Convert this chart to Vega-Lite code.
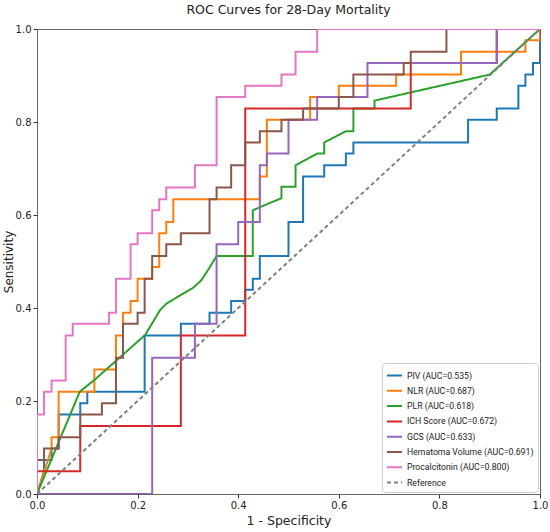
{
 "$schema": "https://vega.github.io/schema/vega-lite/v6.json",
 "width": 503,
 "height": 465,
 "autosize": {"type": "none"},
 "padding": {"left": 37, "top": 29, "right": 10, "bottom": 38},
 "title": {"text": "ROC Curves for 28-Day Mortality", "fontSize": 12.5, "font": "DejaVu Sans", "fontWeight": "normal", "color": "#222", "offset": 8},
 "data": {"values": [
  {"m":"PIV (AUC=0.535)","i":0,"x":0,"y":0},{"m":"PIV (AUC=0.535)","i":1,"x":0.014,"y":0.049},{"m":"PIV (AUC=0.535)","i":2,"x":0.014,"y":0.073},{"m":"PIV (AUC=0.535)","i":3,"x":0.029,"y":0.073},{"m":"PIV (AUC=0.535)","i":4,"x":0.029,"y":0.098},{"m":"PIV (AUC=0.535)","i":5,"x":0.043,"y":0.098},{"m":"PIV (AUC=0.535)","i":6,"x":0.043,"y":0.171},{"m":"PIV (AUC=0.535)","i":7,"x":0.086,"y":0.171},{"m":"PIV (AUC=0.535)","i":8,"x":0.086,"y":0.195},{"m":"PIV (AUC=0.535)","i":9,"x":0.1,"y":0.195},{"m":"PIV (AUC=0.535)","i":10,"x":0.1,"y":0.22},{"m":"PIV (AUC=0.535)","i":11,"x":0.214,"y":0.22},{"m":"PIV (AUC=0.535)","i":12,"x":0.214,"y":0.341},{"m":"PIV (AUC=0.535)","i":13,"x":0.286,"y":0.341},{"m":"PIV (AUC=0.535)","i":14,"x":0.286,"y":0.366},{"m":"PIV (AUC=0.535)","i":15,"x":0.343,"y":0.366},{"m":"PIV (AUC=0.535)","i":16,"x":0.343,"y":0.39},{"m":"PIV (AUC=0.535)","i":17,"x":0.386,"y":0.39},{"m":"PIV (AUC=0.535)","i":18,"x":0.386,"y":0.415},{"m":"PIV (AUC=0.535)","i":19,"x":0.414,"y":0.415},{"m":"PIV (AUC=0.535)","i":20,"x":0.414,"y":0.439},{"m":"PIV (AUC=0.535)","i":21,"x":0.429,"y":0.439},{"m":"PIV (AUC=0.535)","i":22,"x":0.429,"y":0.463},{"m":"PIV (AUC=0.535)","i":23,"x":0.443,"y":0.463},{"m":"PIV (AUC=0.535)","i":24,"x":0.443,"y":0.512},{"m":"PIV (AUC=0.535)","i":25,"x":0.5,"y":0.512},{"m":"PIV (AUC=0.535)","i":26,"x":0.5,"y":0.585},{"m":"PIV (AUC=0.535)","i":27,"x":0.529,"y":0.585},{"m":"PIV (AUC=0.535)","i":28,"x":0.529,"y":0.683},{"m":"PIV (AUC=0.535)","i":29,"x":0.571,"y":0.683},{"m":"PIV (AUC=0.535)","i":30,"x":0.571,"y":0.707},{"m":"PIV (AUC=0.535)","i":31,"x":0.614,"y":0.707},{"m":"PIV (AUC=0.535)","i":32,"x":0.614,"y":0.732},{"m":"PIV (AUC=0.535)","i":33,"x":0.629,"y":0.732},{"m":"PIV (AUC=0.535)","i":34,"x":0.629,"y":0.756},{"m":"PIV (AUC=0.535)","i":35,"x":0.857,"y":0.756},{"m":"PIV (AUC=0.535)","i":36,"x":0.857,"y":0.805},{"m":"PIV (AUC=0.535)","i":37,"x":0.914,"y":0.805},{"m":"PIV (AUC=0.535)","i":38,"x":0.914,"y":0.829},{"m":"PIV (AUC=0.535)","i":39,"x":0.957,"y":0.829},{"m":"PIV (AUC=0.535)","i":40,"x":0.957,"y":0.878},{"m":"PIV (AUC=0.535)","i":41,"x":0.971,"y":0.878},{"m":"PIV (AUC=0.535)","i":42,"x":0.971,"y":0.902},{"m":"PIV (AUC=0.535)","i":43,"x":0.986,"y":0.902},{"m":"PIV (AUC=0.535)","i":44,"x":0.986,"y":0.927},{"m":"PIV (AUC=0.535)","i":45,"x":1,"y":0.927},{"m":"PIV (AUC=0.535)","i":46,"x":1,"y":1},

  {"m":"NLR (AUC=0.687)","i":0,"x":0,"y":0},{"m":"NLR (AUC=0.687)","i":1,"x":0.029,"y":0.098},{"m":"NLR (AUC=0.687)","i":2,"x":0.029,"y":0.122},{"m":"NLR (AUC=0.687)","i":3,"x":0.043,"y":0.122},{"m":"NLR (AUC=0.687)","i":4,"x":0.043,"y":0.22},{"m":"NLR (AUC=0.687)","i":5,"x":0.114,"y":0.22},{"m":"NLR (AUC=0.687)","i":6,"x":0.114,"y":0.268},{"m":"NLR (AUC=0.687)","i":7,"x":0.157,"y":0.268},{"m":"NLR (AUC=0.687)","i":8,"x":0.157,"y":0.341},{"m":"NLR (AUC=0.687)","i":9,"x":0.171,"y":0.341},{"m":"NLR (AUC=0.687)","i":10,"x":0.171,"y":0.39},{"m":"NLR (AUC=0.687)","i":11,"x":0.186,"y":0.39},{"m":"NLR (AUC=0.687)","i":12,"x":0.186,"y":0.415},{"m":"NLR (AUC=0.687)","i":13,"x":0.2,"y":0.415},{"m":"NLR (AUC=0.687)","i":14,"x":0.2,"y":0.463},{"m":"NLR (AUC=0.687)","i":15,"x":0.229,"y":0.463},{"m":"NLR (AUC=0.687)","i":16,"x":0.229,"y":0.488},{"m":"NLR (AUC=0.687)","i":17,"x":0.243,"y":0.488},{"m":"NLR (AUC=0.687)","i":18,"x":0.243,"y":0.561},{"m":"NLR (AUC=0.687)","i":19,"x":0.257,"y":0.561},{"m":"NLR (AUC=0.687)","i":20,"x":0.257,"y":0.585},{"m":"NLR (AUC=0.687)","i":21,"x":0.271,"y":0.585},{"m":"NLR (AUC=0.687)","i":22,"x":0.271,"y":0.634},{"m":"NLR (AUC=0.687)","i":23,"x":0.443,"y":0.634},{"m":"NLR (AUC=0.687)","i":24,"x":0.443,"y":0.683},{"m":"NLR (AUC=0.687)","i":25,"x":0.457,"y":0.683},{"m":"NLR (AUC=0.687)","i":26,"x":0.457,"y":0.805},{"m":"NLR (AUC=0.687)","i":27,"x":0.543,"y":0.805},{"m":"NLR (AUC=0.687)","i":28,"x":0.543,"y":0.854},{"m":"NLR (AUC=0.687)","i":29,"x":0.6,"y":0.854},{"m":"NLR (AUC=0.687)","i":30,"x":0.6,"y":0.878},{"m":"NLR (AUC=0.687)","i":31,"x":0.714,"y":0.878},{"m":"NLR (AUC=0.687)","i":32,"x":0.714,"y":0.902},{"m":"NLR (AUC=0.687)","i":33,"x":0.843,"y":0.902},{"m":"NLR (AUC=0.687)","i":34,"x":0.843,"y":0.951},{"m":"NLR (AUC=0.687)","i":35,"x":0.971,"y":0.951},{"m":"NLR (AUC=0.687)","i":36,"x":0.971,"y":0.976},{"m":"NLR (AUC=0.687)","i":37,"x":1,"y":0.976},{"m":"NLR (AUC=0.687)","i":38,"x":1,"y":1},

  {"m":"PLR (AUC=0.618)","i":0,"x":0,"y":0},{"m":"PLR (AUC=0.618)","i":1,"x":0.085,"y":0.22},{"m":"PLR (AUC=0.618)","i":2,"x":0.114,"y":0.245},{"m":"PLR (AUC=0.618)","i":3,"x":0.215,"y":0.342},{"m":"PLR (AUC=0.618)","i":4,"x":0.245,"y":0.396},{"m":"PLR (AUC=0.618)","i":5,"x":0.258,"y":0.41},{"m":"PLR (AUC=0.618)","i":6,"x":0.311,"y":0.444},{"m":"PLR (AUC=0.618)","i":7,"x":0.327,"y":0.46},{"m":"PLR (AUC=0.618)","i":8,"x":0.342,"y":0.485},{"m":"PLR (AUC=0.618)","i":9,"x":0.357,"y":0.512},{"m":"PLR (AUC=0.618)","i":10,"x":0.429,"y":0.512},{"m":"PLR (AUC=0.618)","i":11,"x":0.429,"y":0.61},{"m":"PLR (AUC=0.618)","i":12,"x":0.463,"y":0.626},{"m":"PLR (AUC=0.618)","i":13,"x":0.486,"y":0.636},{"m":"PLR (AUC=0.618)","i":14,"x":0.486,"y":0.661},{"m":"PLR (AUC=0.618)","i":15,"x":0.514,"y":0.661},{"m":"PLR (AUC=0.618)","i":16,"x":0.514,"y":0.707},{"m":"PLR (AUC=0.618)","i":17,"x":0.557,"y":0.732},{"m":"PLR (AUC=0.618)","i":18,"x":0.571,"y":0.732},{"m":"PLR (AUC=0.618)","i":19,"x":0.571,"y":0.756},{"m":"PLR (AUC=0.618)","i":20,"x":0.614,"y":0.78},{"m":"PLR (AUC=0.618)","i":21,"x":0.629,"y":0.78},{"m":"PLR (AUC=0.618)","i":22,"x":0.629,"y":0.829},{"m":"PLR (AUC=0.618)","i":23,"x":0.671,"y":0.829},{"m":"PLR (AUC=0.618)","i":24,"x":0.671,"y":0.846},{"m":"PLR (AUC=0.618)","i":25,"x":0.9,"y":0.902},{"m":"PLR (AUC=0.618)","i":26,"x":1,"y":1},

  {"m":"ICH Score (AUC=0.672)","i":0,"x":0,"y":0},{"m":"ICH Score (AUC=0.672)","i":1,"x":0,"y":0.049},{"m":"ICH Score (AUC=0.672)","i":2,"x":0.086,"y":0.049},{"m":"ICH Score (AUC=0.672)","i":3,"x":0.086,"y":0.146},{"m":"ICH Score (AUC=0.672)","i":4,"x":0.286,"y":0.146},{"m":"ICH Score (AUC=0.672)","i":5,"x":0.286,"y":0.341},{"m":"ICH Score (AUC=0.672)","i":6,"x":0.414,"y":0.341},{"m":"ICH Score (AUC=0.672)","i":7,"x":0.414,"y":0.829},{"m":"ICH Score (AUC=0.672)","i":8,"x":0.743,"y":0.829},{"m":"ICH Score (AUC=0.672)","i":9,"x":0.743,"y":0.927},{"m":"ICH Score (AUC=0.672)","i":10,"x":0.914,"y":0.927},{"m":"ICH Score (AUC=0.672)","i":11,"x":0.914,"y":1},{"m":"ICH Score (AUC=0.672)","i":12,"x":1,"y":1},

  {"m":"GCS (AUC=0.633)","i":0,"x":0,"y":0},{"m":"GCS (AUC=0.633)","i":1,"x":0.229,"y":0},{"m":"GCS (AUC=0.633)","i":2,"x":0.229,"y":0.293},{"m":"GCS (AUC=0.633)","i":3,"x":0.314,"y":0.293},{"m":"GCS (AUC=0.633)","i":4,"x":0.314,"y":0.366},{"m":"GCS (AUC=0.633)","i":5,"x":0.357,"y":0.366},{"m":"GCS (AUC=0.633)","i":6,"x":0.357,"y":0.537},{"m":"GCS (AUC=0.633)","i":7,"x":0.4,"y":0.537},{"m":"GCS (AUC=0.633)","i":8,"x":0.4,"y":0.585},{"m":"GCS (AUC=0.633)","i":9,"x":0.443,"y":0.585},{"m":"GCS (AUC=0.633)","i":10,"x":0.443,"y":0.707},{"m":"GCS (AUC=0.633)","i":11,"x":0.457,"y":0.707},{"m":"GCS (AUC=0.633)","i":12,"x":0.457,"y":0.732},{"m":"GCS (AUC=0.633)","i":13,"x":0.5,"y":0.732},{"m":"GCS (AUC=0.633)","i":14,"x":0.5,"y":0.805},{"m":"GCS (AUC=0.633)","i":15,"x":0.557,"y":0.805},{"m":"GCS (AUC=0.633)","i":16,"x":0.557,"y":0.854},{"m":"GCS (AUC=0.633)","i":17,"x":0.657,"y":0.854},{"m":"GCS (AUC=0.633)","i":18,"x":0.657,"y":0.927},{"m":"GCS (AUC=0.633)","i":19,"x":0.914,"y":0.927},{"m":"GCS (AUC=0.633)","i":20,"x":0.914,"y":1},{"m":"GCS (AUC=0.633)","i":21,"x":1,"y":1},

  {"m":"Hematoma Volume (AUC=0.691)","i":0,"x":0,"y":0},{"m":"Hematoma Volume (AUC=0.691)","i":1,"x":0,"y":0.073},{"m":"Hematoma Volume (AUC=0.691)","i":2,"x":0.014,"y":0.073},{"m":"Hematoma Volume (AUC=0.691)","i":3,"x":0.014,"y":0.098},{"m":"Hematoma Volume (AUC=0.691)","i":4,"x":0.043,"y":0.098},{"m":"Hematoma Volume (AUC=0.691)","i":5,"x":0.043,"y":0.122},{"m":"Hematoma Volume (AUC=0.691)","i":6,"x":0.086,"y":0.122},{"m":"Hematoma Volume (AUC=0.691)","i":7,"x":0.086,"y":0.171},{"m":"Hematoma Volume (AUC=0.691)","i":8,"x":0.129,"y":0.171},{"m":"Hematoma Volume (AUC=0.691)","i":9,"x":0.129,"y":0.195},{"m":"Hematoma Volume (AUC=0.691)","i":10,"x":0.157,"y":0.195},{"m":"Hematoma Volume (AUC=0.691)","i":11,"x":0.157,"y":0.293},{"m":"Hematoma Volume (AUC=0.691)","i":12,"x":0.171,"y":0.293},{"m":"Hematoma Volume (AUC=0.691)","i":13,"x":0.171,"y":0.366},{"m":"Hematoma Volume (AUC=0.691)","i":14,"x":0.2,"y":0.366},{"m":"Hematoma Volume (AUC=0.691)","i":15,"x":0.2,"y":0.39},{"m":"Hematoma Volume (AUC=0.691)","i":16,"x":0.214,"y":0.39},{"m":"Hematoma Volume (AUC=0.691)","i":17,"x":0.214,"y":0.463},{"m":"Hematoma Volume (AUC=0.691)","i":18,"x":0.229,"y":0.463},{"m":"Hematoma Volume (AUC=0.691)","i":19,"x":0.229,"y":0.512},{"m":"Hematoma Volume (AUC=0.691)","i":20,"x":0.257,"y":0.512},{"m":"Hematoma Volume (AUC=0.691)","i":21,"x":0.257,"y":0.537},{"m":"Hematoma Volume (AUC=0.691)","i":22,"x":0.286,"y":0.537},{"m":"Hematoma Volume (AUC=0.691)","i":23,"x":0.286,"y":0.561},{"m":"Hematoma Volume (AUC=0.691)","i":24,"x":0.343,"y":0.561},{"m":"Hematoma Volume (AUC=0.691)","i":25,"x":0.343,"y":0.634},{"m":"Hematoma Volume (AUC=0.691)","i":26,"x":0.357,"y":0.634},{"m":"Hematoma Volume (AUC=0.691)","i":27,"x":0.357,"y":0.659},{"m":"Hematoma Volume (AUC=0.691)","i":28,"x":0.386,"y":0.659},{"m":"Hematoma Volume (AUC=0.691)","i":29,"x":0.386,"y":0.707},{"m":"Hematoma Volume (AUC=0.691)","i":30,"x":0.414,"y":0.707},{"m":"Hematoma Volume (AUC=0.691)","i":31,"x":0.414,"y":0.756},{"m":"Hematoma Volume (AUC=0.691)","i":32,"x":0.443,"y":0.756},{"m":"Hematoma Volume (AUC=0.691)","i":33,"x":0.443,"y":0.78},{"m":"Hematoma Volume (AUC=0.691)","i":34,"x":0.486,"y":0.78},{"m":"Hematoma Volume (AUC=0.691)","i":35,"x":0.486,"y":0.805},{"m":"Hematoma Volume (AUC=0.691)","i":36,"x":0.529,"y":0.805},{"m":"Hematoma Volume (AUC=0.691)","i":37,"x":0.529,"y":0.829},{"m":"Hematoma Volume (AUC=0.691)","i":38,"x":0.6,"y":0.829},{"m":"Hematoma Volume (AUC=0.691)","i":39,"x":0.6,"y":0.854},{"m":"Hematoma Volume (AUC=0.691)","i":40,"x":0.629,"y":0.854},{"m":"Hematoma Volume (AUC=0.691)","i":41,"x":0.629,"y":0.902},{"m":"Hematoma Volume (AUC=0.691)","i":42,"x":0.729,"y":0.902},{"m":"Hematoma Volume (AUC=0.691)","i":43,"x":0.729,"y":0.927},{"m":"Hematoma Volume (AUC=0.691)","i":44,"x":0.743,"y":0.927},{"m":"Hematoma Volume (AUC=0.691)","i":45,"x":0.743,"y":0.951},{"m":"Hematoma Volume (AUC=0.691)","i":46,"x":0.814,"y":0.951},{"m":"Hematoma Volume (AUC=0.691)","i":47,"x":0.814,"y":1},{"m":"Hematoma Volume (AUC=0.691)","i":48,"x":1,"y":1},

  {"m":"Procalcitonin (AUC=0.800)","i":0,"x":0,"y":0},{"m":"Procalcitonin (AUC=0.800)","i":1,"x":0,"y":0.171},{"m":"Procalcitonin (AUC=0.800)","i":2,"x":0.014,"y":0.171},{"m":"Procalcitonin (AUC=0.800)","i":3,"x":0.014,"y":0.22},{"m":"Procalcitonin (AUC=0.800)","i":4,"x":0.029,"y":0.22},{"m":"Procalcitonin (AUC=0.800)","i":5,"x":0.029,"y":0.244},{"m":"Procalcitonin (AUC=0.800)","i":6,"x":0.057,"y":0.244},{"m":"Procalcitonin (AUC=0.800)","i":7,"x":0.057,"y":0.341},{"m":"Procalcitonin (AUC=0.800)","i":8,"x":0.071,"y":0.341},{"m":"Procalcitonin (AUC=0.800)","i":9,"x":0.071,"y":0.366},{"m":"Procalcitonin (AUC=0.800)","i":10,"x":0.143,"y":0.366},{"m":"Procalcitonin (AUC=0.800)","i":11,"x":0.143,"y":0.39},{"m":"Procalcitonin (AUC=0.800)","i":12,"x":0.157,"y":0.39},{"m":"Procalcitonin (AUC=0.800)","i":13,"x":0.157,"y":0.463},{"m":"Procalcitonin (AUC=0.800)","i":14,"x":0.186,"y":0.463},{"m":"Procalcitonin (AUC=0.800)","i":15,"x":0.186,"y":0.537},{"m":"Procalcitonin (AUC=0.800)","i":16,"x":0.2,"y":0.537},{"m":"Procalcitonin (AUC=0.800)","i":17,"x":0.2,"y":0.561},{"m":"Procalcitonin (AUC=0.800)","i":18,"x":0.229,"y":0.561},{"m":"Procalcitonin (AUC=0.800)","i":19,"x":0.229,"y":0.61},{"m":"Procalcitonin (AUC=0.800)","i":20,"x":0.243,"y":0.61},{"m":"Procalcitonin (AUC=0.800)","i":21,"x":0.243,"y":0.634},{"m":"Procalcitonin (AUC=0.800)","i":22,"x":0.257,"y":0.634},{"m":"Procalcitonin (AUC=0.800)","i":23,"x":0.257,"y":0.659},{"m":"Procalcitonin (AUC=0.800)","i":24,"x":0.314,"y":0.659},{"m":"Procalcitonin (AUC=0.800)","i":25,"x":0.314,"y":0.707},{"m":"Procalcitonin (AUC=0.800)","i":26,"x":0.357,"y":0.707},{"m":"Procalcitonin (AUC=0.800)","i":27,"x":0.357,"y":0.854},{"m":"Procalcitonin (AUC=0.800)","i":28,"x":0.414,"y":0.854},{"m":"Procalcitonin (AUC=0.800)","i":29,"x":0.414,"y":0.878},{"m":"Procalcitonin (AUC=0.800)","i":30,"x":0.486,"y":0.878},{"m":"Procalcitonin (AUC=0.800)","i":31,"x":0.486,"y":0.902},{"m":"Procalcitonin (AUC=0.800)","i":32,"x":0.514,"y":0.902},{"m":"Procalcitonin (AUC=0.800)","i":33,"x":0.514,"y":0.951},{"m":"Procalcitonin (AUC=0.800)","i":34,"x":0.557,"y":0.951},{"m":"Procalcitonin (AUC=0.800)","i":35,"x":0.557,"y":1},{"m":"Procalcitonin (AUC=0.800)","i":36,"x":1,"y":1},

  {"m":"Reference","i":0,"x":0,"y":0},{"m":"Reference","i":1,"x":1,"y":1}
 ]},
 "mark": {"type": "line", "strokeWidth": 2, "clip": true},
 "encoding": {
  "x": {"field": "x", "type": "quantitative", "scale": {"domain": [0, 1], "nice": false, "zero": false},
        "axis": {"title": "1 - Specificity", "values": [0, 0.2, 0.4, 0.6, 0.8, 1], "format": ".1f"}},
  "y": {"field": "y", "type": "quantitative", "scale": {"domain": [0, 1], "nice": false, "zero": false},
        "axis": {"title": "Sensitivity", "values": [0, 0.2, 0.4, 0.6, 0.8, 1], "format": ".1f"}},
  "color": {"field": "m", "type": "nominal", "title": null,
   "scale": {"domain": ["PIV (AUC=0.535)", "NLR (AUC=0.687)", "PLR (AUC=0.618)", "ICH Score (AUC=0.672)", "GCS (AUC=0.633)", "Hematoma Volume (AUC=0.691)", "Procalcitonin (AUC=0.800)", "Reference"],
             "range": ["#1f77b4", "#ff7f0e", "#2ca02c", "#d62728", "#9467bd", "#8c564b", "#e377c2", "#808080"]}},
  "strokeDash": {"field": "m", "type": "nominal", "title": null,
   "scale": {"domain": ["PIV (AUC=0.535)", "NLR (AUC=0.687)", "PLR (AUC=0.618)", "ICH Score (AUC=0.672)", "GCS (AUC=0.633)", "Hematoma Volume (AUC=0.691)", "Procalcitonin (AUC=0.800)", "Reference"],
             "range": [[1, 0], [1, 0], [1, 0], [1, 0], [1, 0], [1, 0], [1, 0], [4, 3]]}},
  "strokeWidth": {"condition": {"test": "datum.m === 'Reference'", "value": 1.2}, "value": 2},
  "order": {"field": "i", "type": "quantitative"}
 },
 "config": {
  "font": "DejaVu Sans",
  "view": {"stroke": "#666", "strokeWidth": 1},
  "axis": {"grid": false, "domain": false, "labelFlush": false, "tickColor": "#333", "tickSize": 4, "labelFontSize": 10, "labelColor": "#222",
           "titleFontSize": 12, "titleFontWeight": "normal", "titleColor": "#222", "labelPadding": 2},
  "axisY": {"titlePadding": 0},
  "axisX": {"titlePadding": 4, "titleFontSize": 12.5},
  "legend": {"orient": "none", "legendX": 345, "legendY": 334, "fillColor": "white", "strokeColor": "#ccc", "cornerRadius": 3,
             "padding": 4, "labelFont": "Roboto", "labelFontSize": 8.7, "labelColor": "#222", "symbolType": "stroke", "symbolSize": 225,
             "symbolStrokeWidth": 2, "rowPadding": 1.3, "labelOffset": 4}
 }
}
